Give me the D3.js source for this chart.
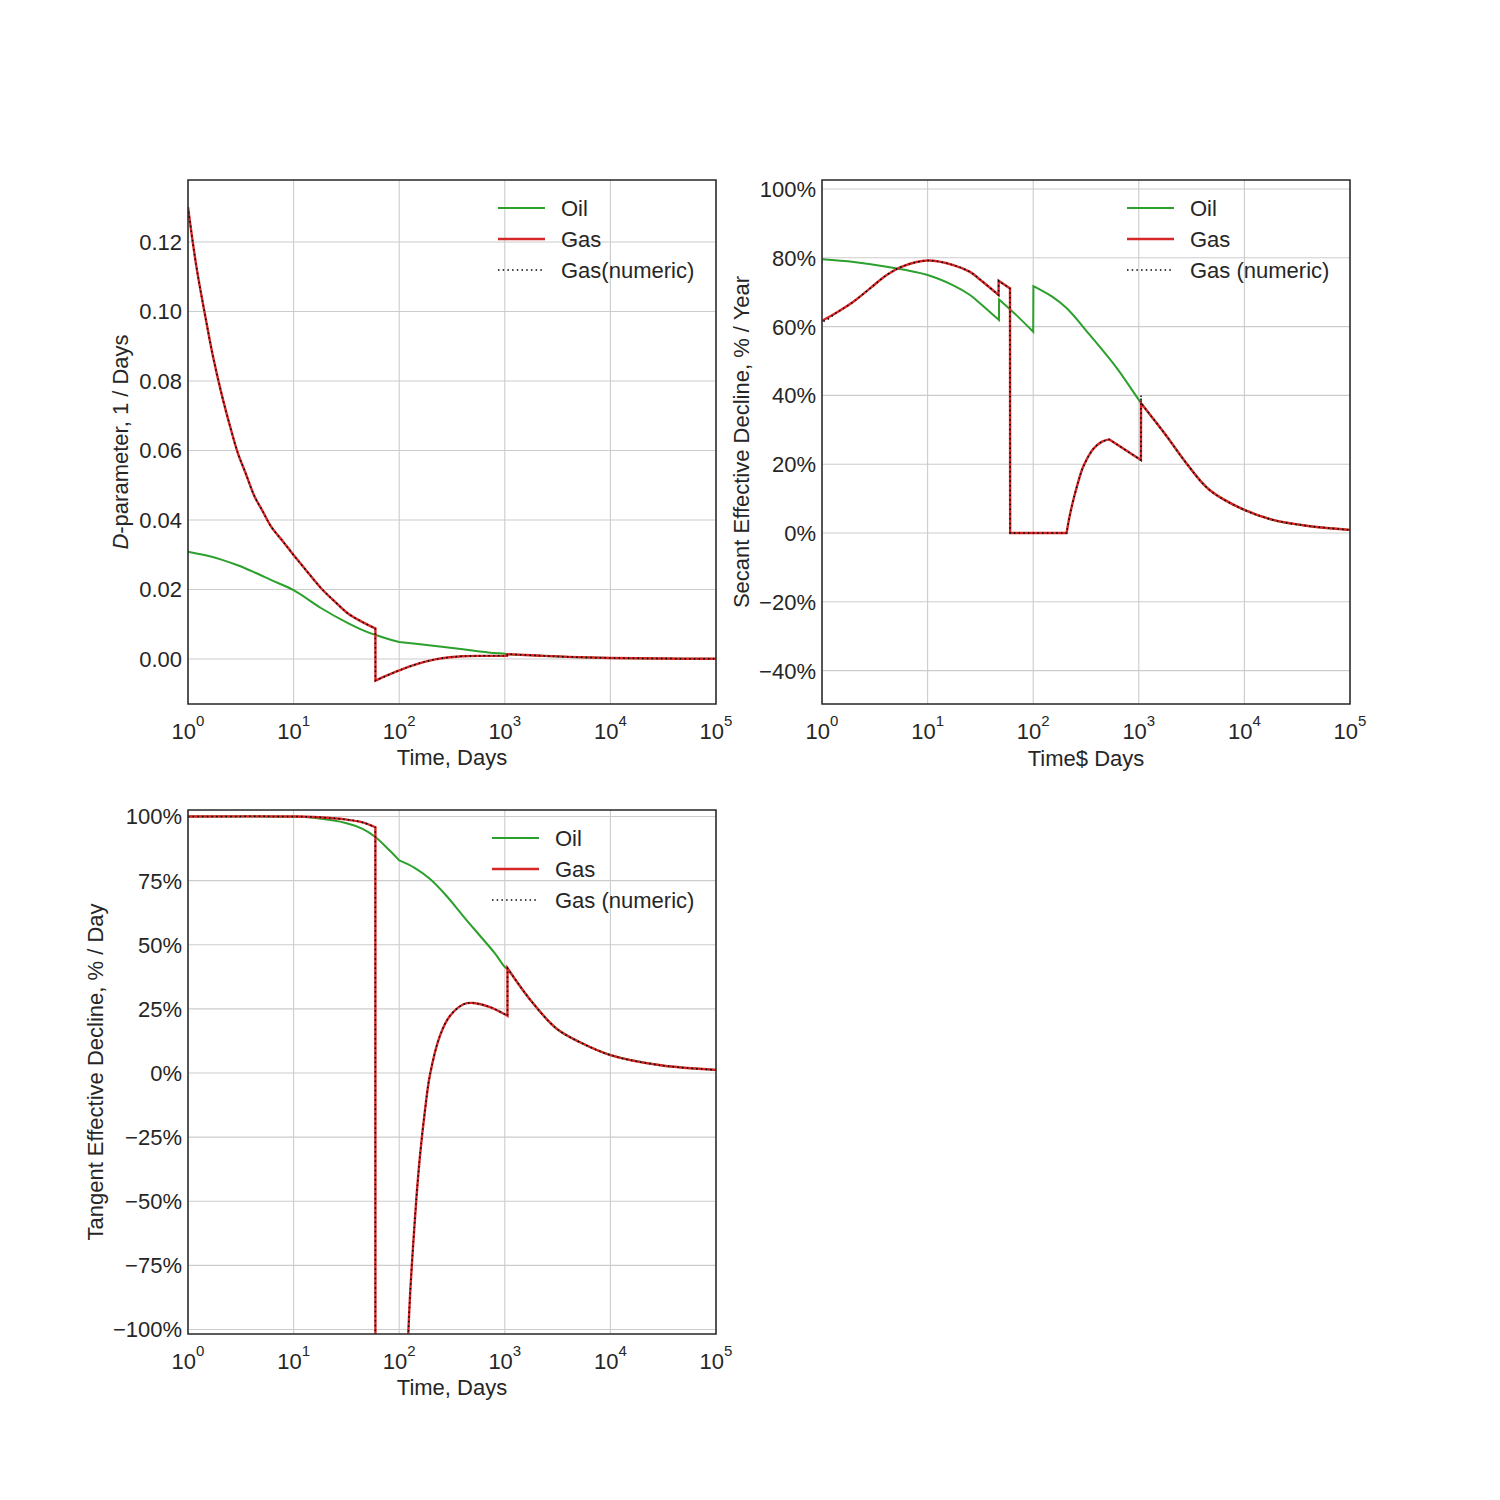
<!DOCTYPE html>
<html><head><meta charset="utf-8">
<script src="https://cdn.jsdelivr.net/npm/d3@7/dist/d3.min.js"></script>
<style>body{margin:0;background:#fff}svg{display:block}text{font-family:"Liberation Sans",Arial,sans-serif;fill:#262626}</style>
</head><body>
<script>
// ---------- data ----------
const xTicks = [1, 10, 100, 1000, 10000, 100000];
const xTickExp = ["0", "1", "2", "3", "4", "5"];
const dTicks = [0, 0.02, 0.04, 0.06, 0.08, 0.10, 0.12];
const secTicks = [-0.4, -0.2, 0, 0.2, 0.4, 0.6, 0.8, 1.0];
const tanTicks = [-1, -0.75, -0.5, -0.25, 0, 0.25, 0.5, 0.75, 1];

// [time (days), value]; points closer than 1% in time mark a jump / corner
const dOil = [[1,.0309],[1.5,.0298],[2.07,.0286],[3,.0269],[4.28,.0249],[6.15,.0227],[10,.0198],[18.3,.0146],[32.7,.0103],[45,.0083],[60,.0069],[80,.0057],[100,.0049],[100.1,.0049],[200,.0039],[400,.0028],[700,.0019],[1000,.0015],[1060,.0014],[2000,.0010],[4000,.0006],[10000,.0003],[30000,.00013],[100000,.00005]];
const dGas = [[1,.130],[1.2,.113],[1.44,.0995],[1.7,.088],[2.07,.0765],[2.5,.067],[2.97,.0592],[3.5,.0536],[4.28,.0467],[5,.0430],[6.15,.0380],[8,.0337],[10,.0299],[13,.0257],[18.3,.0203],[25,.0163],[32.7,.0131],[45,.0106],[59.5,.0088],[59.6,-.0062],[80,-.0045],[100,-.0033],[130,-.0020],[170,-.0009],[220,-.0001],[300,.0005],[400,.0008],[600,.0009],[1050,.0009],[1060,.0014],[2000,.0010],[4000,.0006],[10000,.0003],[30000,.00013],[100000,.00005]];
const dGasNum = dGas;

const secOil = [[1,.796],[2,.788],[4.1,.774],[10,.75],[17.5,.72],[25.2,.692],[31.3,.668],[47.4,.619],[47.5,.679],[70,.632],[100,.585],[100.5,.718],[150,.688],[207,.654],[345,.575],[617,.48],[1050,.378],[1830,.282],[2820,.203],[4680,.125],[10000,.067],[18700,.038],[38700,.021],[100000,.009]];
const secGas = [[1,.617],[1.38,.641],[1.98,.672],[2.85,.711],[4.1,.75],[5.89,.776],[10,.792],[17.5,.779],[25.2,.759],[31.3,.737],[47,.692],[47.1,.733],[60.3,.711],[60.5,0],[207,0],[207.1,0],[221,.048],[240,.096],[270,.154],[298,.193],[370,.244],[445,.265],[525,.272],[526,.272],[1047,.212],[1050,.377],[1830,.282],[2820,.203],[4680,.125],[10000,.067],[18700,.038],[38700,.021],[100000,.009]];
const secGasNum = [[1,.79],[1.01,.617],[1.38,.641],[1.98,.672],[2.85,.711],[4.1,.75],[5.89,.776],[10,.792],[17.5,.779],[25.2,.759],[31.3,.737],[47,.692],[47.1,.733],[60.3,.711],[60.5,0],[207,0],[207.1,0],[221,.048],[240,.096],[270,.154],[298,.193],[370,.244],[445,.265],[525,.272],[526,.272],[1047,.212],[1050,.40],[1055,.377],[1830,.282],[2820,.203],[4680,.125],[10000,.067],[18700,.038],[38700,.021],[100000,.009]];

const tanOil = [[1,1],[10,.999],[15.4,.995],[31.8,.974],[45,.952],[59.5,.92],[80,.87],[100,.829],[100.1,.829],[140,.80],[195,.757],[281,.690],[407,.610],[582,.535],[800,.468],[1000,.413],[1060,.405],[1745,.285],[3090,.173],[5150,.120],[10000,.07],[30000,.03],[100000,.012]];
const tanGas = [[1,1],[10,1],[15.4,.998],[31.8,.988],[45,.977],[59.5,.958],[59.6,-10],[100,-3],[115,-1.5],[120,-1.1],[126,-.886],[136,-.661],[146,-.48],[157,-.327],[175,-.15],[195,-.01],[243,.145],[302,.222],[407,.268],[504,.273],[724,.257],[1000,.229],[1060,.223],[1061,.409],[1745,.285],[3090,.173],[5150,.120],[10000,.07],[30000,.03],[100000,.012]];
const tanGasNum = tanGas;

const legend1 = ["Oil", "Gas", "Gas(numeric)"];
const legend2 = ["Oil", "Gas", "Gas (numeric)"];
const legend3 = ["Oil", "Gas", "Gas (numeric)"];

// ---------- drawing ----------
const GREEN = "#2ca02c", RED = "#d62728", BLACK = "#000";
const svg = d3.select("body").append("svg").attr("width", 1500).attr("height", 1500);
svg.append("rect").attr("width", 1500).attr("height", 1500).attr("fill", "#fff");

function seriesPath(data, line) {
  const segs = [[data[0]]];
  for (let i = 1; i < data.length; i++) {
    if (data[i][0] / data[i - 1][0] < 1.01) segs.push([data[i]]);
    else segs[segs.length - 1].push(data[i]);
  }
  let d = "";
  segs.forEach((s, k) => {
    let p = line(s.length > 1 ? s : [s[0], s[0]]);
    if (k > 0) p = "L" + p.slice(1);
    d += p;
  });
  return d;
}

function panel(o) {
  const W = 528, H = 524;
  const x = d3.scaleLog().domain([1, 1e5]).range([o.left, o.left + W]);
  const y = d3.scaleLinear().domain(o.yDomain).range([o.top + H, o.top]);
  const g = svg.append("g");
  const cid = "clip" + o.id;
  svg.append("clipPath").attr("id", cid).append("rect")
    .attr("x", o.left).attr("y", o.top).attr("width", W).attr("height", H);
  // grid
  g.selectAll(".vg").data(xTicks).join("line")
    .attr("x1", d => x(d)).attr("x2", d => x(d)).attr("y1", o.top).attr("y2", o.top + H)
    .attr("stroke", "#cccccc").attr("stroke-width", 1.1);
  g.selectAll(".hg").data(o.yTicks).join("line")
    .attr("y1", d => y(d)).attr("y2", d => y(d)).attr("x1", o.left).attr("x2", o.left + W)
    .attr("stroke", "#cccccc").attr("stroke-width", 1.1);
  // lines
  const line = d3.line().curve(d3.curveCatmullRom.alpha(0.5)).x(d => x(d[0])).y(d => y(d[1]));
  const lg = g.append("g").attr("clip-path", `url(#${cid})`);
  const styles = [
    {c: GREEN, dash: null, w: 2}, {c: RED, dash: null, w: 2.4}, {c: BLACK, dash: "1.5,3.2", w: 1.5}
  ];
  o.series.forEach((s, i) => {
    lg.append("path").attr("d", seriesPath(s, line)).attr("fill", "none")
      .attr("stroke", styles[i].c).attr("stroke-width", styles[i].w)
      .attr("stroke-dasharray", styles[i].dash);
  });
  // spines
  g.append("rect").attr("x", o.left).attr("y", o.top).attr("width", W).attr("height", H)
    .attr("fill", "none").attr("stroke", "#262626").attr("stroke-width", 1.5);
  // x tick labels
  xTicks.forEach((t, i) => {
    const tx = g.append("text").attr("x", x(t)).attr("y", o.top + H + 35)
      .attr("text-anchor", "middle").attr("font-size", 22);
    tx.append("tspan").text("10");
    tx.append("tspan").attr("dy", -13).attr("font-size", 15).text(xTickExp[i]);
  });
  // y tick labels
  g.selectAll(".yt").data(o.yTicks).join("text")
    .attr("x", o.left - 6).attr("y", d => y(d)).attr("dy", "0.36em")
    .attr("text-anchor", "end").attr("font-size", 22).text(o.yFmt);
  // axis labels
  g.append("text").attr("x", o.left + W / 2).attr("y", o.top + H + o.xlabOff)
    .attr("text-anchor", "middle").attr("font-size", 22).text(o.xlabel);
  const yl = g.append("text").attr("transform", `translate(${o.ylabX},${o.top + H / 2}) rotate(-90)`)
    .attr("text-anchor", "middle").attr("font-size", 22);
  o.ylabel(yl);
  // legend
  o.legend.forEach((lab, i) => {
    const ly = o.top + 28 + i * 31;
    g.append("line").attr("x1", o.legX).attr("x2", o.legX + 47).attr("y1", ly).attr("y2", ly)
      .attr("stroke", styles[i].c).attr("stroke-width", styles[i].w).attr("stroke-dasharray", styles[i].dash);
    g.append("text").attr("x", o.legX + 63).attr("y", ly).attr("dy", "0.36em")
      .attr("font-size", 22).text(lab);
  });
}

const pct = d => (d < 0 ? "\u2212" : "") + Math.round(Math.abs(d) * 100) + "%";

panel({
  id: 1, left: 188, top: 180, yDomain: [-0.01295, 0.13784], yTicks: dTicks,
  yFmt: d => (d < 0 ? "\u2212" : "") + Math.abs(d).toFixed(2),
  xlabel: "Time, Days", xlabOff: 61, ylabX: 128,
  ylabel: t => { t.append("tspan").attr("font-style", "italic").text("D"); t.append("tspan").text("-parameter, 1 / Days"); },
  legX: 498, legend: legend1, series: [dOil, dGas, dGasNum]
});
panel({
  id: 2, left: 822, top: 180, yDomain: [-0.4971, 1.0262], yTicks: secTicks, yFmt: pct,
  xlabel: "Time$ Days", xlabOff: 62, ylabX: 749,
  ylabel: t => t.text("Secant Effective Decline, % / Year"),
  legX: 1127, legend: legend2, series: [secOil, secGas, secGasNum]
});
panel({
  id: 3, left: 188, top: 810, yDomain: [-1.0175, 1.0253], yTicks: tanTicks, yFmt: pct,
  xlabel: "Time, Days", xlabOff: 61, ylabX: 103,
  ylabel: t => t.text("Tangent Effective Decline, % / Day"),
  legX: 492, legend: legend3, series: [tanOil, tanGas, tanGasNum]
});
</script>
</body></html>
